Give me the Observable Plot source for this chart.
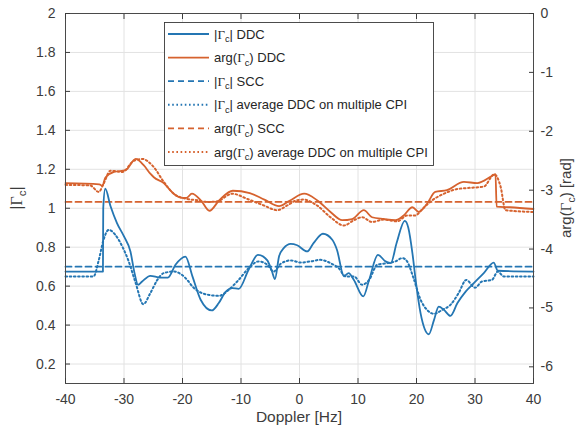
<!DOCTYPE html>
<html><head><meta charset="utf-8">
<script src="https://cdn.jsdelivr.net/npm/d3@7"></script>
<script src="https://cdn.jsdelivr.net/npm/@observablehq/plot@0.6"></script>
<style>body{margin:0;background:#fff}#chart{width:576px;height:427px}</style>
</head><body><div id="chart"></div>
<script>
// ---- data ----
const xTicks = [-40, -30, -20, -10, 0, 10, 20, 30, 40];
const magTicks = [0.2, 0.4, 0.6, 0.8, 1, 1.2, 1.4, 1.6, 1.8, 2];
const argTicks = [0, -1, -2, -3, -4, -5, -6];
const magDomain = [0.1, 2];
const argDomain = [-2 * Math.PI, 0];
const magSCC = 0.70;
const argSCC = -3.2;

// |Γc| DDC  [Doppler Hz, value]
const magDDC = [[-40,0.675],[-33.6,0.675],[-33.55,1.0],[-33.2,1.10],[-32.3,1.01],[-31.2,0.924],[-30.0,0.855],[-28.9,0.778],[-28.2,0.667],[-27.6,0.607],[-26.9,0.624],[-25.5,0.653],[-23.8,0.644],[-22.5,0.644],[-21.2,0.71],[-19.5,0.752],[-18.3,0.65],[-16.9,0.53],[-15.0,0.475],[-13.8,0.513],[-12.6,0.572],[-11.5,0.59],[-10.4,0.586],[-8.7,0.684],[-7.1,0.761],[-5.5,0.732],[-4.7,0.675],[-4.2,0.636],[-3.5,0.752],[-2.7,0.795],[-1.5,0.817],[-0.4,0.81],[1.3,0.778],[2.4,0.821],[4.0,0.869],[5.6,0.838],[6.4,0.787],[7.6,0.65],[8.4,0.667],[9.3,0.632],[10.9,0.547],[11.9,0.632],[13.4,0.761],[14.7,0.727],[15.6,0.718],[16.6,0.821],[18.0,0.935],[18.6,0.90],[19.3,0.77],[19.9,0.62],[20.7,0.46],[21.4,0.38],[22.1,0.353],[23.0,0.427],[23.8,0.495],[24.7,0.478],[25.8,0.447],[27.0,0.513],[28.4,0.572],[29.8,0.615],[31.5,0.667],[33.2,0.721],[33.9,0.679],[40,0.675]];

// |Γc| average DDC on multiple CPI
const magAvg = [[-40,0.65],[-35.2,0.65],[-34.3,0.735],[-33.5,0.838],[-32.6,0.889],[-31.5,0.864],[-30.3,0.804],[-29.2,0.727],[-28.0,0.615],[-26.7,0.507],[-25.5,0.564],[-24.3,0.632],[-23.2,0.667],[-21.5,0.675],[-20.2,0.66],[-19.0,0.625],[-18.3,0.598],[-17.2,0.572],[-15.5,0.555],[-13.8,0.55],[-12.1,0.581],[-10.4,0.632],[-8.7,0.692],[-7.0,0.727],[-5.5,0.71],[-4.4,0.675],[-3.2,0.715],[-1.5,0.732],[0.2,0.721],[1.9,0.727],[3.6,0.735],[5.3,0.718],[6.7,0.692],[7.9,0.65],[9.3,0.65],[10.7,0.607],[11.9,0.632],[13.3,0.71],[15.0,0.718],[16.4,0.727],[17.6,0.744],[18.4,0.727],[19.5,0.64],[20.7,0.53],[21.8,0.478],[23.0,0.458],[24.4,0.478],[25.8,0.504],[27.2,0.564],[28.5,0.632],[30.0,0.592],[31.2,0.624],[32.9,0.632],[33.9,0.675],[34.9,0.65],[40,0.65]];

// arg(Γc) DDC [rad]
const argDDC = [[-40,-2.88],[-34.2,-2.90],[-33.7,-2.93],[-33.2,-2.79],[-31.7,-2.69],[-29.7,-2.66],[-28.0,-2.47],[-26.6,-2.58],[-25.5,-2.72],[-24.9,-2.78],[-23.2,-2.88],[-21.5,-3.06],[-20.1,-3.13],[-19.3,-3.13],[-18.4,-3.06],[-16.8,-3.18],[-15.4,-3.35],[-13.7,-3.17],[-11.4,-3.01],[-8.5,-3.05],[-6.0,-3.16],[-3.5,-3.27],[-1.7,-3.18],[0.8,-3.06],[3.0,-3.17],[5.3,-3.37],[7.3,-3.51],[9.0,-3.49],[11.0,-3.34],[12.4,-3.46],[14.4,-3.49],[16.4,-3.51],[17.8,-3.43],[19.3,-3.29],[20.4,-3.37],[21.8,-3.23],[23.2,-3.03],[25.2,-3.0],[28.1,-2.86],[30.4,-2.88],[32.9,-2.76],[33.5,-2.73],[33.7,-3.28],[36,-3.29],[40,-3.32]];

// arg(Γc) average DDC on multiple CPI [rad]
const argAvg = [[-40,-2.91],[-35.8,-2.92],[-34.3,-3.03],[-33.5,-2.89],[-32.3,-2.67],[-30.3,-2.69],[-28.3,-2.50],[-26.9,-2.47],[-24.9,-2.61],[-23.2,-2.86],[-21.5,-3.06],[-19.2,-3.15],[-17.5,-3.17],[-15.8,-3.20],[-14.1,-3.19],[-11.5,-3.06],[-8.9,-3.15],[-6.1,-3.26],[-3.8,-3.34],[-2.1,-3.26],[-0.4,-3.17],[0.7,-3.16],[3.0,-3.26],[5.3,-3.46],[7.6,-3.60],[9.3,-3.51],[10.7,-3.46],[12.4,-3.54],[14.4,-3.50],[16.7,-3.53],[18.4,-3.43],[19.8,-3.43],[21.0,-3.32],[22.7,-3.17],[24.7,-3.06],[27.0,-2.98],[29.2,-2.96],[31.5,-2.94],[33.3,-2.73],[34.4,-2.95],[35.2,-3.34],[40,-3.37]];

const blue = "#2476b3";
const orange = "#d6622e";
const DASH = "6,4";
const DOT = "1.6,2.6";
const legendItems = [
  {pre: "|", sub: "c", post: "| DDC", color: blue, dash: null},
  {pre: "arg(", sub: "c", post: ") DDC", color: orange, dash: null},
  {pre: "|", sub: "c", post: "| SCC", color: blue, dash: DASH},
  {pre: "|", sub: "c", post: "| average DDC on multiple CPI", color: blue, dash: DOT},
  {pre: "arg(", sub: "c", post: ") SCC", color: orange, dash: DASH},
  {pre: "arg(", sub: "c", post: ") average DDC on multiple CPI", color: orange, dash: DOT}
];

// ---- map phase onto the magnitude (left) scale ----
const toMag = p => magDomain[0] + (p - argDomain[0]) / (argDomain[1] - argDomain[0]) * (magDomain[1] - magDomain[0]);
const fromMag = m => argDomain[0] + (m - magDomain[0]) / (magDomain[1] - magDomain[0]) * (argDomain[1] - argDomain[0]);

const rows = (arr, f = v => v) => arr.map(([x, v]) => ({x, y: f(v)}));
const flat = (v) => [xTicks[0], xTicks[xTicks.length - 1]].map(x => ({x, y: v}));

const FONT = "'Liberation Sans', Arial, Helvetica, sans-serif";
const SERIF = "'Liberation Serif', 'DejaVu Serif', serif";
const ink = "#3c3c3c";

const chart = Plot.plot({
  width: 576, height: 427,
  marginLeft: 65, marginRight: 43, marginTop: 13, marginBottom: 44,
  x: {domain: [-40, 40]},
  y: {domain: magDomain},
  style: {fontFamily: FONT, fontSize: "14px", color: ink, background: "#fff"},
  marks: [
    Plot.gridX(xTicks.slice(1, -1), {stroke: "#e2e2e2", strokeOpacity: 1}),
    Plot.gridY(magTicks.slice(0, -1), {stroke: "#e2e2e2", strokeOpacity: 1}),
    Plot.line(flat(magSCC), {x: "x", y: "y", stroke: blue, strokeWidth: 1.8, strokeDasharray: DASH}),
    Plot.line(flat(toMag(argSCC)), {x: "x", y: "y", stroke: orange, strokeWidth: 1.8, strokeDasharray: DASH}),
    Plot.line(rows(magAvg), {x: "x", y: "y", stroke: blue, strokeWidth: 2, strokeDasharray: DOT, curve: "monotone-x"}),
    Plot.line(rows(argAvg, toMag), {x: "x", y: "y", stroke: orange, strokeWidth: 2, strokeDasharray: DOT, curve: "monotone-x"}),
    Plot.line(rows(magDDC), {x: "x", y: "y", stroke: blue, strokeWidth: 1.8, curve: "monotone-x"}),
    Plot.line(rows(argDDC, toMag), {x: "x", y: "y", stroke: orange, strokeWidth: 1.8, curve: "monotone-x"}),
    Plot.frame({stroke: "#4a4a4a", strokeWidth: 1}),
    Plot.axisX(xTicks, {anchor: "bottom", tickSize: -5, tickPadding: 16, label: null, tickFormat: d => String(d)}),
    Plot.axisX(xTicks, {anchor: "top", tickSize: -5, label: null, tickFormat: () => ""}),
    Plot.axisY(magTicks, {anchor: "left", tickSize: -5, tickPadding: 15, label: null, tickFormat: d => String(d)}),
    Plot.axisY(argTicks.map(toMag), {anchor: "right", tickSize: -5, tickPadding: 12, label: null, tickFormat: d => String(Math.round(fromMag(d)))})
  ]
});
document.getElementById("chart").appendChild(chart);

// ---- axis labels with subscripts ----
const svg = d3.select(chart);
const labels = svg.append("g").attr("fill", ink).attr("font-family", FONT);
function subText(sel, pre, sub, post, size) {
  sel.append("tspan").text(pre);
  sel.append("tspan").attr("font-family", SERIF).text("Γ");
  sel.append("tspan").attr("font-size", size * 0.72).attr("dy", size * 0.28).text(sub);
  sel.append("tspan").attr("dy", -size * 0.28).text(post);
}
const L = labels.append("text").attr("font-size", 16).attr("text-anchor", "middle")
  .attr("transform", "translate(22,198) rotate(-90)");
subText(L, "|", "c", "|", 16);
const R = labels.append("text").attr("font-size", 15).attr("text-anchor", "middle")
  .attr("transform", "translate(571,198) rotate(-90)");
subText(R, "arg(", "c", ") [rad]", 15);
labels.append("text").attr("font-size", 15.5).attr("text-anchor", "middle")
  .attr("x", 299).attr("y", 422).text("Doppler [Hz]");

// ---- legend ----
const lg = svg.append("g").attr("font-family", FONT).attr("text-anchor", "start");
lg.append("rect").attr("x", 164.5).attr("y", 22.5).attr("width", 269).attr("height", 143)
  .attr("fill", "#fff").attr("stroke", "#3a3a3a").attr("stroke-width", 0.9);
legendItems.forEach((it, i) => {
  const y = 34 + i * 23.6;
  lg.append("line").attr("x1", 168).attr("x2", 209).attr("y1", y).attr("y2", y)
    .attr("stroke", it.color).attr("stroke-width", it.dash === DOT ? 2 : 1.8)
    .attr("stroke-dasharray", it.dash);
  const t = lg.append("text").attr("x", 214).attr("y", y + 4.5).attr("font-size", 13)
    .attr("fill", "#262626").attr("text-anchor", "start");
  subText(t, it.pre, it.sub, it.post, 13);
});
</script>
</body></html>
